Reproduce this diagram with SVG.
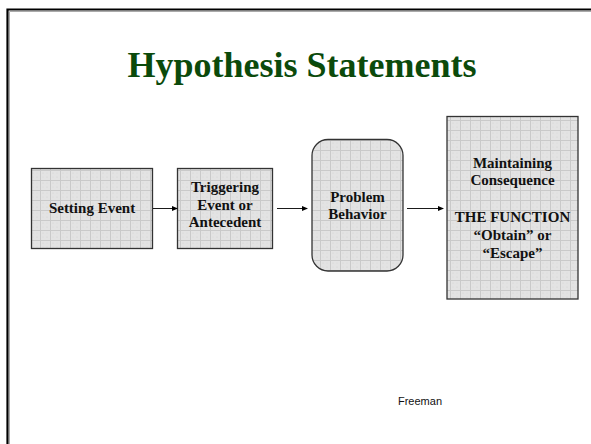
<svg xmlns="http://www.w3.org/2000/svg" width="591" height="444" viewBox="0 0 591 444">
<defs>
<pattern id="grid" width="10" height="10" patternUnits="userSpaceOnUse">
<rect width="10" height="10" fill="#e3e3e3"/>
<path d="M0 0.5H10M0.5 0V10" stroke="#c9c9c9" stroke-width="1"/>
<circle cx="3" cy="3" r="0.5" fill="#d0d0d0"/>
<circle cx="7" cy="7" r="0.5" fill="#d0d0d0"/>
<circle cx="3" cy="7" r="0.5" fill="#d6d6d6"/>
<circle cx="7" cy="3" r="0.5" fill="#d6d6d6"/>
</pattern>
<marker id="arr" markerWidth="6" markerHeight="6" refX="5" refY="3" orient="auto" markerUnits="userSpaceOnUse">
<path d="M0 0.5L6 3L0 5.5Z" fill="#000"/>
</marker>
<style>
.box{fill:url(#grid);stroke:#333;stroke-width:1.3}
.lbl{font-family:"Liberation Serif",serif;font-weight:bold;font-size:15px;fill:#111;text-anchor:middle}
.conn{stroke:#000;stroke-width:0.9;fill:none;marker-end:url(#arr)}
</style>
</defs>
<rect width="591" height="444" fill="#fff"/>
<path d="M9.5 444V11.5H591" fill="none" stroke="#aaa" stroke-width="1"/>
<path d="M7.5 444V9.5H591" fill="none" stroke="#000" stroke-width="2.2"/>
<text x="302" y="77" font-family="Liberation Serif,serif" font-weight="bold" font-size="36" fill="#0b4a0b" text-anchor="middle">Hypothesis Statements</text>
<g id="setting-event">
<rect class="box" x="31.5" y="168.5" width="121" height="80"/>
<text class="lbl" x="92" y="213">Setting Event</text>
</g>
<g id="triggering-event">
<rect class="box" x="177.5" y="168.5" width="95" height="80"/>
<text class="lbl" x="225" y="192">Triggering</text>
<text class="lbl" x="225" y="209.5">Event or</text>
<text class="lbl" x="225" y="227">Antecedent</text>
</g>
<g id="problem-behavior">
<rect class="box" x="312" y="139.5" width="91" height="131.5" rx="16" ry="16"/>
<text class="lbl" x="357.5" y="202">Problem</text>
<text class="lbl" x="357.5" y="219">Behavior</text>
</g>
<g id="maintaining-consequence">
<rect class="box" x="447" y="116.5" width="131" height="182.5"/>
<text class="lbl" x="512.5" y="168">Maintaining</text>
<text class="lbl" x="512.5" y="185">Consequence</text>
<text class="lbl" x="512.5" y="222">THE FUNCTION</text>
<text class="lbl" x="512.5" y="240">“Obtain” or</text>
<text class="lbl" x="512.5" y="258">“Escape”</text>
</g>
<g id="connectors">
<line class="conn" x1="153" y1="208.5" x2="177" y2="208.5"/>
<line class="conn" x1="277" y1="208.5" x2="307" y2="208.5"/>
<line class="conn" x1="407" y1="208.5" x2="443" y2="208.5"/>
</g>
<text x="420" y="405" font-family="Liberation Sans,Arial,sans-serif" font-size="11" fill="#111" text-anchor="middle">Freeman</text>
</svg>
